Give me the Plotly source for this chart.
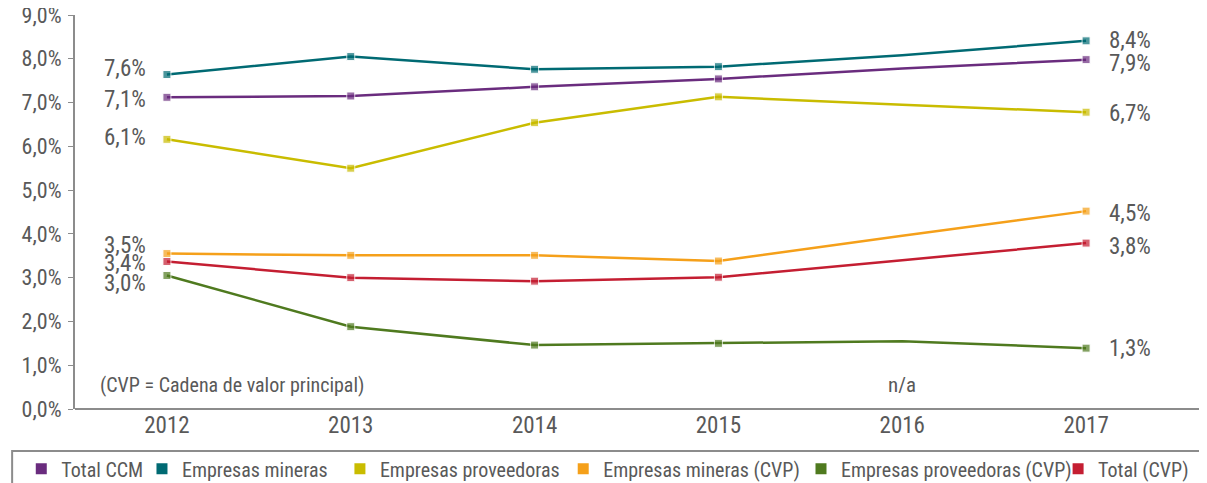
import plotly.graph_objects as go

years = ['2012', '2013', '2014', '2015', '2016', '2017']

series_names = ['Total CCM', 'Empresas mineras', 'Empresas proveedoras',
                'Empresas mineras (CVP)', 'Empresas proveedoras (CVP)', 'Total (CVP)']
total_ccm = [7.12, 7.15, 7.36, 7.54, 7.78, 7.98]
empresas_mineras = [7.64, 8.05, 7.76, 7.82, 8.08, 8.41]
empresas_proveedoras = [6.16, 5.50, 6.54, 7.13, 6.95, 6.78]
mineras_cvp = [3.55, 3.51, 3.51, 3.38, 3.96, 4.52]
proveedoras_cvp = [3.05, 1.88, 1.46, 1.50, 1.55, 1.39]
total_cvp = [3.37, 3.00, 2.92, 3.01, 3.40, 3.79]

first_labels = ['7,1%', '7,6%', '6,1%', '3,5%', '3,0%', '3,4%']
last_labels = ['7,9%', '8,4%', '6,7%', '4,5%', '1,3%', '3,8%']

colors = ['#6A2C7E', '#006A73', '#C9BC00', '#F5A01A', '#4F7A1F', '#C41E32']
all_values = [total_ccm, empresas_mineras, empresas_proveedoras, mineras_cvp, proveedoras_cvp, total_cvp]

# label nudges so the stacked end labels don't collide
first_shift = [-2, 6, 2, 8, -8, -2]
last_shift = [-4, 0, -1, -2, 0, -3]

# one small legend per entry so the spacing follows the original
legend_x = [0.0110, 0.1110, 0.2750, 0.4600, 0.6570, 0.8700]

FONT = 'Roboto Condensed, Roboto, sans-serif'
GREY = '#595959'
AXIS = '#8C8C8C'

fig = go.Figure()
for name, vals, col in zip(series_names, all_values, colors):
    # 2016 is n/a: line passes through but no marker
    sizes = [0 if y == '2016' else 8 for y in years]
    fig.add_trace(go.Scatter(x=years, y=vals, name=name, mode='lines+markers', showlegend=False,
                             line=dict(color=col, width=2.5),
                             marker=dict(symbol='square', size=sizes, color=col)))
# legend shows plain squares only
for i, (name, col) in enumerate(zip(series_names, colors)):
    fig.add_trace(go.Scatter(x=[None], y=[None], name=name, mode='markers',
                             legend='legend' if i == 0 else f'legend{i + 1}',
                             marker=dict(symbol='square', size=11, color=col)))

for vals, txt, sh in zip(all_values, first_labels, first_shift):
    fig.add_annotation(x=0, y=vals[0], text=txt, showarrow=False, xanchor='right',
                       xshift=-19, yshift=sh, font=dict(size=23, color=GREY, family=FONT))
for vals, txt, sh in zip(all_values, last_labels, last_shift):
    fig.add_annotation(x=len(years) - 1, y=vals[-1], text=txt, showarrow=False, xanchor='left',
                       xshift=21, yshift=sh, font=dict(size=23, color=GREY, family=FONT))

fig.add_annotation(x=0.021, xref='paper', y=0.55, text='(CVP = Cadena de valor principal)',
                   showarrow=False, xanchor='left', font=dict(size=20, color=GREY, family=FONT))
fig.add_annotation(x=years.index('2016'), y=0.55, text='n/a', showarrow=False,
                   font=dict(size=21, color=GREY, family=FONT))

# bottom axis line running to the edge, and the legend frame
fig.add_shape(type='line', xref='paper', yref='paper', x0=0, x1=1.04, y0=0, y1=0,
              line=dict(color=AXIS, width=2))
fig.add_shape(type='rect', xref='paper', yref='paper', x0=-0.057, x1=1.05, y0=-0.1066, y1=-0.3,
              line=dict(color=AXIS, width=2), fillcolor='rgba(0,0,0,0)')

legends = {}
for i, lx in enumerate(legend_x):
    key = 'legend' if i == 0 else f'legend{i + 1}'
    legends[key] = dict(orientation='h', xref='container', yref='container', x=lx, xanchor='left',
                        y=0.046, yanchor='middle', font=dict(size=20, color=GREY, family=FONT),
                        itemwidth=30, bgcolor='rgba(0,0,0,0)')

# page body adds an 8px offset, margins compensate for it
fig.update_layout(
    width=1207, height=483,
    margin=dict(l=67, r=37, t=7, b=82, autoexpand=False),
    plot_bgcolor='white', paper_bgcolor='white',
    separators=',.',
    font=dict(family=FONT, color=GREY),
    showlegend=True,
    **legends,
)
fig.update_xaxes(type='category', showgrid=False, showline=False, ticks='', automargin=False,
                 tickfont=dict(size=23, color=GREY), range=[-0.5, 5.5])
fig.update_yaxes(range=[0, 9], dtick=1, tickformat='.1f', ticksuffix='%', showgrid=False,
                 showline=True, linecolor=AXIS, linewidth=2, ticks='outside', automargin=False,
                 ticklen=5, tickcolor=AXIS, tickfont=dict(size=22, color=GREY),
                 ticklabelstandoff=2, ticklabeloverflow='allow', zeroline=False)

fig.write_html("out.html")
